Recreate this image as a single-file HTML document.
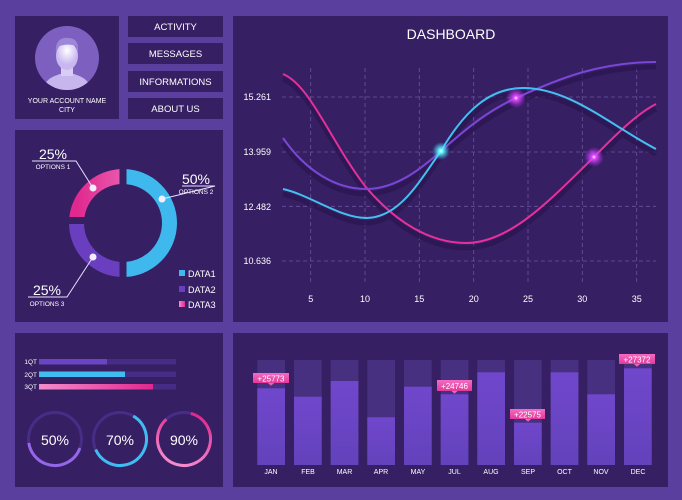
<!DOCTYPE html>
<html><head><meta charset="utf-8"><style>
html,body{margin:0;padding:0;background:#5b3f9f;}
svg{display:block}
text{font-family:"Liberation Sans Narrow","Liberation Sans",sans-serif;fill:#fff}
</style></head><body>
<svg width="682" height="500" viewBox="0 0 682 500" xmlns="http://www.w3.org/2000/svg">
<defs>
<linearGradient id="pk" x1="0" y1="0" x2="1" y2="0"><stop offset="0" stop-color="#f48ccc"/><stop offset="1" stop-color="#e0288e"/></linearGradient>
<linearGradient id="bar" x1="0" y1="0" x2="0" y2="1"><stop offset="0" stop-color="#7047cc"/><stop offset="1" stop-color="#6342bb"/></linearGradient>
<linearGradient id="tag" x1="0" y1="0" x2="0" y2="1"><stop offset="0" stop-color="#f36cc0"/><stop offset="1" stop-color="#e33a9c"/></linearGradient>
<radialGradient id="gp"><stop offset="0" stop-color="#fff"/><stop offset="0.2" stop-color="#e24cff"/><stop offset="1" stop-color="#c030ff" stop-opacity="0"/></radialGradient>
<radialGradient id="gc"><stop offset="0" stop-color="#fff"/><stop offset="0.2" stop-color="#6ff"/><stop offset="1" stop-color="#4cf" stop-opacity="0"/></radialGradient>
<radialGradient id="pf" cx="0.5" cy="0.3"><stop offset="0" stop-color="#fff"/><stop offset="1" stop-color="#c9b8f0"/></radialGradient>
</defs>
<rect width="682" height="500" fill="#5b3f9f"/>
<!-- panels -->
<rect x="15" y="16" width="104" height="103" fill="#361f63"/>
<rect x="128" y="16" width="95" height="21" fill="#361f63"/>
<rect x="128" y="43" width="95" height="21" fill="#361f63"/>
<rect x="128" y="71" width="95" height="21" fill="#361f63"/>
<rect x="128" y="98" width="95" height="21" fill="#361f63"/>
<rect x="15" y="130" width="208" height="192" fill="#361f63"/>
<rect x="233" y="16" width="435" height="306" fill="#361f63"/>
<rect x="15" y="333" width="208" height="154" fill="#361f63"/>
<rect x="233" y="333" width="435" height="154" fill="#361f63"/>

<!-- profile -->
<circle cx="67" cy="58" r="32" fill="#7d5fc0"/>
<clipPath id="pc"><circle cx="67" cy="58" r="32"/></clipPath>
<g clip-path="url(#pc)">
<path d="M43,90 C45,78 55,76 60,74 L74,74 C79,76 89,78 91,90 Z" fill="#c7b6ee"/>
<rect x="61" y="66" width="12" height="10" fill="#d9ccf5"/>
<ellipse cx="67" cy="56" rx="11" ry="14" fill="url(#pf)"/>
<path d="M56,52 C55,40 62,37 68,38 C75,38 79,42 78,52 L76,46 C72,44 62,44 58,47 Z" fill="#9e86d8"/>
</g>
<text x="67" y="103" font-size="7" text-anchor="middle">YOUR ACCOUNT NAME</text>
<text x="67" y="112" font-size="7" text-anchor="middle">CITY</text>
<g font-size="9.5" text-anchor="middle">
<text x="175.5" y="30">ACTIVITY</text>
<text x="175.5" y="57">MESSAGES</text>
<text x="175.5" y="85">INFORMATIONS</text>
<text x="175.5" y="112">ABOUT US</text>
</g>

<!-- donut -->
<circle cx="123" cy="223" r="46.5" fill="none" stroke="#3fb8ee" stroke-width="15" stroke-dasharray="146.1 146.1" transform="rotate(-90 123 223)"/>
<circle cx="123" cy="223" r="46.5" fill="none" stroke="#6a3fbf" stroke-width="15" stroke-dasharray="73 219" transform="rotate(90 123 223)"/>
<circle cx="123" cy="223" r="46.5" fill="none" stroke="url(#pk)" stroke-width="15" stroke-dasharray="73 219" transform="rotate(180 123 223)"/>
<rect x="119.5" y="160" width="7" height="126" fill="#361f63"/>
<rect x="60" y="217" width="62" height="7" fill="#361f63"/>
<g stroke="#e8e0ff" stroke-width="1" fill="none">
<polyline points="32,161 76,161 93,188"/>
<polyline points="182,186 215,186 162,199" />
<polyline points="28,297 67,297 93,257"/>
</g>
<circle cx="93" cy="188" r="3.5" fill="#f3eeff"/>
<circle cx="162" cy="199" r="3.5" fill="#f3eeff"/>
<circle cx="93" cy="257" r="3.5" fill="#f3eeff"/>
<text x="53" y="159" font-size="14" text-anchor="middle">25%</text>
<text x="53" y="169" font-size="6.5" text-anchor="middle" fill="#cfc3ee">OPTIONS 1</text>
<text x="196" y="184" font-size="14" text-anchor="middle">50%</text>
<text x="196" y="194" font-size="6.5" text-anchor="middle" fill="#cfc3ee">OPTIONS 2</text>
<text x="47" y="295" font-size="14" text-anchor="middle">25%</text>
<text x="47" y="306" font-size="6.5" text-anchor="middle" fill="#cfc3ee">OPTIONS 3</text>
<rect x="179" y="270" width="6" height="6" fill="#3fb8ee"/>
<rect x="179" y="286" width="6" height="6" fill="#6a3fbf"/>
<rect x="179" y="301" width="6" height="6" fill="url(#pk)"/>
<g font-size="9"><text x="188" y="277">DATA1</text><text x="188" y="293">DATA2</text><text x="188" y="308">DATA3</text></g>

<!-- line chart -->
<text x="451" y="39" font-size="14" text-anchor="middle">DASHBOARD</text>
<g stroke="#6b559e" stroke-width="0.8" stroke-dasharray="4 3">
<line x1="310.7" y1="68" x2="310.7" y2="283"/><line x1="365" y1="68" x2="365" y2="283"/>
<line x1="419.3" y1="68" x2="419.3" y2="283"/><line x1="473.7" y1="68" x2="473.7" y2="283"/>
<line x1="528" y1="68" x2="528" y2="283"/><line x1="582.3" y1="68" x2="582.3" y2="283"/>
<line x1="636.7" y1="68" x2="636.7" y2="283"/>
<line x1="282" y1="97" x2="656" y2="97"/><line x1="282" y1="152" x2="656" y2="152"/>
<line x1="282" y1="206.3" x2="656" y2="206.3"/><line x1="282" y1="261" x2="656" y2="261"/>
</g>
<g font-size="9" text-anchor="end"><text x="271" y="100">15.261</text><text x="271" y="155">13.959</text><text x="271" y="210">12.482</text><text x="271" y="264">10.636</text></g>
<g font-size="9" text-anchor="middle"><text x="310.7" y="302">5</text><text x="365" y="302">10</text><text x="419.3" y="302">15</text><text x="473.7" y="302">20</text><text x="528" y="302">25</text><text x="582.3" y="302">30</text><text x="636.7" y="302">35</text></g>
<g fill="none" stroke-width="5" stroke="#2a1650" opacity="0.7" transform="translate(0,5)">
<path d="M283,74 C310,85 330,140 365,186 C395,222 430,243 466,243 C510,243 550,200 594,157 C620,130 640,112 656,104"/>
<path d="M283,138 C305,170 335,189 366,189 C395,189 420,170 441,151 C470,125 490,110 516,98 C560,78 600,62 656,62"/>
<path d="M283,189 C310,195 340,218 366,218 C400,218 420,180 441,151 C465,110 490,88 523,88 C570,88 610,125 656,149"/>
</g>
<g fill="none" stroke-width="2">
<path d="M283,74 C310,85 330,140 365,186 C395,222 430,243 466,243 C510,243 550,200 594,157 C620,130 640,112 656,104" stroke="#e5309c"/>
<path d="M283,138 C305,170 335,189 366,189 C395,189 420,170 441,151 C470,125 490,110 516,98 C560,78 600,62 656,62" stroke="#7a46d6"/>
<path d="M283,189 C310,195 340,218 366,218 C400,218 420,180 441,151 C465,110 490,88 523,88 C570,88 610,125 656,149" stroke="#44c0f0"/>
</g>
<circle cx="441" cy="151" r="9" fill="url(#gc)"/>
<circle cx="516" cy="98" r="10" fill="url(#gp)"/>
<circle cx="594" cy="157" r="10" fill="url(#gp)"/>

<!-- bottom left -->
<g font-size="6.5" text-anchor="end"><text x="37" y="364">1QT</text><text x="37" y="377">2QT</text><text x="37" y="389">3QT</text></g>
<rect x="39" y="359" width="137" height="5.5" fill="#462c85"/>
<rect x="39" y="371.5" width="137" height="5.5" fill="#462c85"/>
<rect x="39" y="384" width="137" height="5.5" fill="#462c85"/>
<rect x="39" y="359" width="68" height="5.5" fill="#6b44c4"/>
<rect x="39" y="371.5" width="86" height="5.5" fill="#40bdf0"/>
<rect x="39" y="384" width="114" height="5.5" fill="url(#pk)"/>
<g fill="none" stroke-width="3">
<circle cx="55" cy="439" r="26.5" stroke="#472d86"/>
<circle cx="120" cy="439" r="26.5" stroke="#472d86"/>
<circle cx="184" cy="439" r="26.5" stroke="#472d86"/>
<circle cx="55" cy="439" r="26.5" stroke="#9566e8" stroke-dasharray="70 167" transform="rotate(20 55 439)"/>
<circle cx="120" cy="439" r="26.5" stroke="#40bdf0" stroke-dasharray="100 167" transform="rotate(-60 120 439)"/>
<circle cx="184" cy="439" r="26.5" stroke="url(#pk)" stroke-dasharray="140 167" transform="rotate(-75 184 439)"/>
</g>
<g font-size="14" text-anchor="middle"><text x="55" y="445">50%</text><text x="120" y="445">70%</text><text x="184" y="445">90%</text></g>

<!-- bar chart -->
<g id="bars">
<g fill="#46307f">
<rect x="257.3" y="360" width="27.7" height="105"/><rect x="294" y="360" width="27.7" height="105"/><rect x="330.7" y="360" width="27.7" height="105"/><rect x="367.3" y="360" width="27.7" height="105"/><rect x="404" y="360" width="27.7" height="105"/><rect x="440.7" y="360" width="27.7" height="105"/><rect x="477.3" y="360" width="27.7" height="105"/><rect x="514" y="360" width="27.7" height="105"/><rect x="550.7" y="360" width="27.7" height="105"/><rect x="587.3" y="360" width="27.7" height="105"/><rect x="624" y="360" width="27.7" height="105"/>
</g>
<g fill="url(#bar)">
<rect x="257.3" y="388.3" width="27.7" height="76.7"/><rect x="294" y="396.7" width="27.7" height="68.3"/><rect x="330.7" y="381" width="27.7" height="84"/><rect x="367.3" y="417.3" width="27.7" height="47.7"/><rect x="404" y="386.7" width="27.7" height="78.3"/><rect x="440.7" y="394.3" width="27.7" height="70.7"/><rect x="477.3" y="372.3" width="27.7" height="92.7"/><rect x="514" y="422.7" width="27.7" height="42.3"/><rect x="550.7" y="372.3" width="27.7" height="92.7"/><rect x="587.3" y="394.3" width="27.7" height="70.7"/><rect x="624" y="368.3" width="27.7" height="96.7"/>
</g>
</g>
<g font-size="7" text-anchor="middle">
<text x="271" y="474">JAN</text><text x="308" y="474">FEB</text><text x="344.5" y="474">MAR</text><text x="381" y="474">APR</text><text x="418" y="474">MAY</text><text x="454.5" y="474">JUL</text><text x="491" y="474">AUG</text><text x="528" y="474">SEP</text><text x="564.5" y="474">OCT</text><text x="601" y="474">NOV</text><text x="638" y="474">DEC</text>
</g>
<g fill="url(#tag)">
<rect x="253" y="373" width="36" height="10"/><polygon points="268,383 274,383 271,386"/>
<rect x="437" y="380" width="35" height="11"/><polygon points="451.5,391 457.5,391 454.5,394"/>
<rect x="510" y="409" width="35" height="10"/><polygon points="525,419 531,419 528,422"/>
<rect x="619" y="354" width="36" height="10"/><polygon points="634,364 640,364 637,367"/>
</g>
<g font-size="8" text-anchor="middle">
<text x="271" y="381.5">+25773</text><text x="454.5" y="389">+24746</text><text x="527.5" y="417.5">+22575</text><text x="637" y="362.5">+27372</text>
</g>
</svg>
</body></html>
